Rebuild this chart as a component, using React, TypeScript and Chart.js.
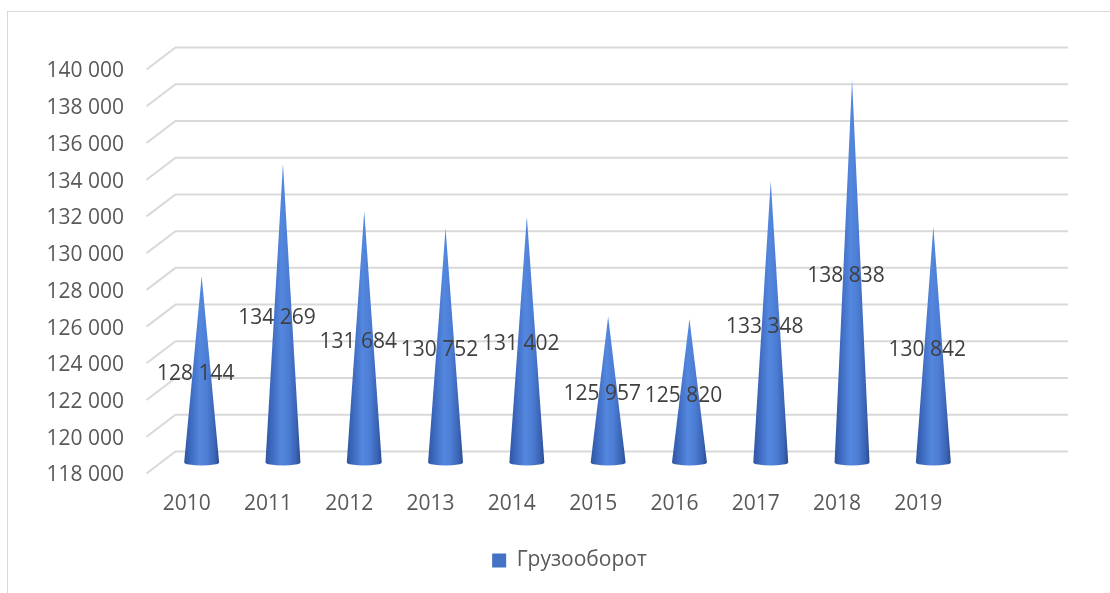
import React, { useEffect, useRef } from 'react';
import { Chart, registerables } from 'chart.js';

Chart.register(...registerables);

const categories = ['2010', '2011', '2012', '2013', '2014', '2015', '2016', '2017', '2018', '2019'];
const cargoTurnover = [128144, 134269, 131684, 130752, 131402, 125957, 125820, 133348, 138838, 130842];
const seriesName = 'Грузооборот';
const yTicks = [118000, 120000, 122000, 124000, 126000, 128000, 130000, 132000, 134000, 136000, 138000, 140000];

const FONT = '"Open Sans", "Noto Sans", sans-serif';
const fmt = (v: number) => String(v).replace(/\B(?=(\d{3})+(?!\d))/g, ' ');

const DEPTH_X = 14.5;
const DEPTH_Y = 11;

const framePlugin = {
  id: 'frame3d',
  afterLayout(chart: any) {
    const lg = chart.legend;
    if (lg) {
      lg.left = chart.chartArea.left + 2;
      lg.right = chart.chartArea.right + 2;
      lg.width = lg.right - lg.left;
    }
  },
  beforeDraw(chart: any) {
    const { ctx, width, height } = chart;
    ctx.save();
    ctx.fillStyle = '#ffffff';
    ctx.fillRect(0, 0, width, height);
    ctx.strokeStyle = '#d9d9d9';
    ctx.lineWidth = 1;
    ctx.strokeRect(7.5, 11.5, width + 20, height + 20);
    ctx.restore();
  },
  beforeDatasetsDraw(chart: any) {
    const { ctx, chartArea, scales } = chart;
    const ys = scales.y;
    const backRight = chartArea.right + 94;
    ctx.save();
    ctx.strokeStyle = '#d9d9d9';
    ctx.lineWidth = 2;
    ys.ticks.forEach((t: any) => {
      const y = ys.getPixelForValue(t.value);
      ctx.beginPath();
      ctx.moveTo(chartArea.left - DEPTH_X, y + DEPTH_Y);
      ctx.lineTo(chartArea.left + DEPTH_X, y - DEPTH_Y);
      ctx.lineTo(backRight, y - DEPTH_Y);
      ctx.stroke();
    });
    ctx.restore();
  },
  afterDatasetsDraw(chart: any) {
    const { ctx } = chart;
    const meta = chart.getDatasetMeta(0);
    const data = chart.data.datasets[0].data as number[];
    ctx.save();
    meta.data.forEach((bar: any) => {
      const { x, y, base, width } = bar.getProps(['x', 'y', 'base', 'width'], true);
      const half = width / 2;
      const ry = 3;
      const g = ctx.createLinearGradient(x - half, 0, x + half, 0);
      g.addColorStop(0, '#2e56a0');
      g.addColorStop(0.2, '#3f6cc2');
      g.addColorStop(0.45, '#5487de');
      g.addColorStop(0.65, '#4d7ed6');
      g.addColorStop(0.88, '#3a63b3');
      g.addColorStop(1, '#2a4c90');
      ctx.beginPath();
      ctx.moveTo(x, y);
      ctx.lineTo(x + half, base);
      ctx.ellipse(x, base, half, ry, 0, 0, Math.PI, false);
      ctx.closePath();
      ctx.fillStyle = g;
      ctx.fill();
    });
    ctx.fillStyle = '#404040';
    ctx.font = `21px ${FONT}`;
    ctx.textAlign = 'center';
    ctx.textBaseline = 'middle';
    meta.data.forEach((bar: any, i: number) => {
      const { x, y, base } = bar.getProps(['x', 'y', 'base'], true);
      ctx.fillText(fmt(data[i]), x - 6, (y + base) / 2 + 5);
    });
    ctx.restore();
  },
};

export default function App() {
  const ref = useRef<HTMLCanvasElement | null>(null);
  useEffect(() => {
    if (!ref.current) return;
    const chart = new Chart(ref.current, {
      type: 'bar',
      data: {
        labels: categories,
        datasets: [
          {
            label: seriesName,
            data: cargoTurnover,
            base: yTicks[0],
            backgroundColor: 'rgba(0,0,0,0)',
            borderWidth: 0,
            barPercentage: 0.43,
            categoryPercentage: 1,
          } as any,
        ],
      },
      plugins: [framePlugin],
      options: {
        animation: false,
        responsive: true,
        maintainAspectRatio: false,
        layout: { padding: { left: 0, right: 136, top: 58.5, bottom: 12 } },
        plugins: {
          tooltip: { enabled: false },
          legend: {
            position: 'bottom',
            labels: {
              font: { family: FONT, size: 21 },
              color: '#595959',
              boxWidth: 14,
              boxHeight: 14,
              padding: 10,
              generateLabels: (c: any) =>
                c.data.datasets.map((d: any, i: number) => ({
                  text: d.label,
                  fillStyle: '#4472c4',
                  strokeStyle: '#4472c4',
                  lineWidth: 0,
                  fontColor: '#595959',
                  datasetIndex: i,
                  hidden: false,
                })),
            },
          },
        },
        scales: {
          x: {
            grid: { display: false, drawTicks: false },
            border: { display: false },
            ticks: {
              font: { family: FONT, size: 21 },
              color: '#595959',
              padding: 29,
              labelOffset: -15,
              maxRotation: 0,
            },
            afterFit: (s: any) => {
              s.height = 77.5;
            },
          },
          y: {
            min: 118000,
            max: 140000,
            grid: { display: false, drawTicks: false },
            border: { display: false },
            ticks: {
              font: { family: FONT, size: 21 },
              color: '#595959',
              padding: 37,
              labelOffset: 13,
              callback: (v: any) => fmt(Number(v)),
            },
            afterBuildTicks: (s: any) => {
              s.ticks = yTicks.map((v) => ({ value: v }));
            },
            afterFit: (s: any) => {
              s.width = 161;
            },
          },
        },
      },
    });
    return () => chart.destroy();
  }, []);
  return (
    <div style={{ position: 'fixed', left: 0, top: 0, width: 1110, height: 593 }}>
      <canvas ref={ref} />
    </div>
  );
}
